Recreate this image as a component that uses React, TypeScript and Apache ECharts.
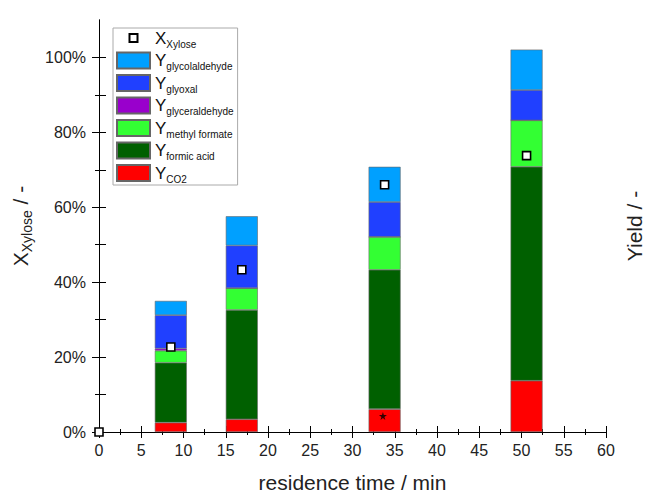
import React, { useEffect, useRef } from 'react';
import * as echarts from 'echarts';

// residence times of the bars (min)
const times = [8.5, 16.9, 33.8, 50.6];
// yields (%), stacked bottom to top
const yCO2 = [2.5, 3.4, 6.1, 13.7];
const yFormicAcid = [16.0, 29.2, 37.2, 57.1];
const yMethylFormate = [3.2, 5.8, 8.8, 12.4];
const yGlyceraldehyde = [0.6, 0, 0, 0];
const yGlyoxal = [8.9, 11.4, 9.3, 8.1];
const yGlycolaldehyde = [3.8, 7.8, 9.4, 10.8];
// xylose conversion (%)
const xTimes = [0, 8.5, 16.9, 33.8, 50.6];
const xXylose = [0, 22.7, 43.3, 66.0, 73.8];
// extra marked point
const starTimes = [33.6];
const starValues = [4.3];
// tick labels
const yLabelValues = [0, 20, 40, 60, 80, 100];
const yMinorValues = [10, 30, 50, 70, 90];
const yRightValues = [0, 10, 20, 30, 40, 50, 60, 70, 80, 90, 100];

const FONT = 'Liberation Sans, Arial, Helvetica, sans-serif';

const barSeriesDefs = [
  { name: 'Y_CO2', data: yCO2, color: '#ff0000' },
  { name: 'Y_formic acid', data: yFormicAcid, color: '#006000' },
  { name: 'Y_methyl formate', data: yMethylFormate, color: '#33ff33' },
  { name: 'Y_glyceraldehyde', data: yGlyceraldehyde, color: '#9900cc' },
  { name: 'Y_glyoxal', data: yGlyoxal, color: '#2040ff' },
  { name: 'Y_glycolaldehyde', data: yGlycolaldehyde, color: '#00a0ff' },
];

const STAR =
  'path://M50,0 L61,35 L98,35 L68,57 L79,91 L50,70 L21,91 L32,57 L2,35 L39,35 Z';

export default function App() {
  const ref = useRef<HTMLDivElement>(null);
  useEffect(() => {
    if (!ref.current) return;
    document.body.style.margin = '0';
    const chart = echarts.init(ref.current, null, { renderer: 'svg' });
    const axisLine = { show: true, lineStyle: { color: '#000', width: 1 } };
    const option: any = {
      animation: false,
      textStyle: { fontFamily: FONT },
      grid: { left: 99, right: 42, top: 20, bottom: 62, outerBoundsMode: 'none', containLabel: false },
      legend: {
        orient: 'vertical',
        left: 113,
        top: 28,
        padding: [1, 4, 1, 3],
        itemWidth: 33,
        itemHeight: 16,
        itemGap: 2.5,
        borderColor: '#aaaaaa',
        borderWidth: 1,
        icon: 'rect',
        data: [
          {
            name: 'X_Xylose',
            icon: 'path://M0,0M33,16M12.5,4h8v8h-8z',
          },
          'Y_glycolaldehyde',
          'Y_glyoxal',
          'Y_glyceraldehyde',
          'Y_methyl formate',
          'Y_formic acid',
          'Y_CO2',
        ],
        formatter: (name: string) => {
          const [m, s] = name.split('_');
          return `{m|${m}}{s|${s}}`;
        },
        textStyle: {
          color: '#111',
          rich: {
            m: { fontSize: 17, lineHeight: 22, fontFamily: FONT, color: '#111' },
            s: {
              fontSize: 10,
              lineHeight: 10,
              verticalAlign: 'bottom',
              fontFamily: FONT,
              color: '#111',
            },
          },
        },
      },
      xAxis: [
        {
          type: 'value',
          position: 'bottom',
          min: 0,
          max: 60,
          interval: 5,
          axisLine,
          splitLine: { show: false },
          axisTick: { show: true, length: 6, lineStyle: { color: '#000' } },
          minorTick: { show: true, splitNumber: 2, length: 3, lineStyle: { color: '#000' } },
          axisLabel: { fontSize: 16, color: '#222', margin: 10, fontFamily: FONT },
          name: 'residence time / min',
          nameLocation: 'middle',
          nameGap: 40,
          nameTextStyle: { fontSize: 21, color: '#222', fontFamily: FONT },
        },
        {
          type: 'value',
          position: 'top',
          min: 0,
          max: 60,
          interval: 5,
          axisLine,
          splitLine: { show: false },
          axisTick: { show: true, length: 6, lineStyle: { color: '#000' } },
          minorTick: { show: true, splitNumber: 2, length: 3, lineStyle: { color: '#000' } },
          axisLabel: { show: false },
        },
      ],
      yAxis: [
        {
          type: 'value',
          position: 'left',
          min: 0,
          max: 110,
          interval: 10,
          axisLine,
          splitLine: { show: false },
          axisTick: {
            show: true,
            length: 7,
            customValues: yLabelValues,
            lineStyle: { color: '#000' },
          },
          axisLabel: {
            customValues: yLabelValues,
            formatter: '{value}%',
            fontSize: 16,
            color: '#222',
            margin: 13,
            fontFamily: FONT,
          },
          name: '{a|X}{b|Xylose}{a| / -}',
          nameLocation: 'middle',
          nameRotate: 90,
          nameGap: 62,
          nameTextStyle: {
            color: '#222',
            rich: {
              a: { fontSize: 21, lineHeight: 28, color: '#222', fontFamily: FONT },
              b: {
                fontSize: 14,
                lineHeight: 14,
                verticalAlign: 'bottom',
                color: '#222',
                fontFamily: FONT,
              },
            },
          },
        },
        {
          type: 'value',
          position: 'right',
          min: 0,
          max: 110,
          interval: 10,
          axisLine,
          splitLine: { show: false },
          axisTick: {
            show: true,
            length: 7,
            customValues: yRightValues,
            lineStyle: { color: '#000' },
          },
          axisLabel: { show: false },
          name: 'Yield / -',
          nameLocation: 'middle',
          nameRotate: 90,
          nameGap: 18,
          nameTextStyle: { fontSize: 21, color: '#222', fontFamily: FONT },
        },
        {
          type: 'value',
          position: 'left',
          min: 0,
          max: 110,
          interval: 10,
          axisLine: { show: false },
          splitLine: { show: false },
          axisTick: {
            show: true,
            length: 4,
            customValues: yMinorValues,
            lineStyle: { color: '#000' },
          },
          axisLabel: { show: false },
        },
      ],
      series: [
        ...barSeriesDefs.map((d) => ({
          type: 'bar',
          name: d.name,
          stack: 'yield',
          barWidth: 32,
          xAxisIndex: 0,
          yAxisIndex: 0,
          // value first so that the stack runs along the y dimension
          data: times.map((t, i) => [d.data[i], t]),
          encode: { x: 1, y: 0 },
          itemStyle: { color: d.color, borderColor: '#666', borderWidth: 0.6 },
        })),
        {
          type: 'scatter',
          name: 'X_Xylose',
          xAxisIndex: 0,
          yAxisIndex: 0,
          symbol: 'rect',
          symbolSize: 8,
          clip: true,
          z: 5,
          data: xTimes.map((t, i) => [t, xXylose[i]]),
          itemStyle: { color: '#ffffff', borderColor: '#000', borderWidth: 1.6, opacity: 1 },
        },
        {
          type: 'scatter',
          name: 'marker',
          xAxisIndex: 0,
          yAxisIndex: 0,
          symbol: STAR,
          symbolSize: 8,
          z: 5,
          data: starTimes.map((t, i) => [t, starValues[i]]),
          itemStyle: { color: '#000' },
        },
      ],
    };
    chart.setOption(option);
    return () => chart.dispose();
  }, []);
  return <div ref={ref} style={{ width: 648, height: 494 }} />;
}
